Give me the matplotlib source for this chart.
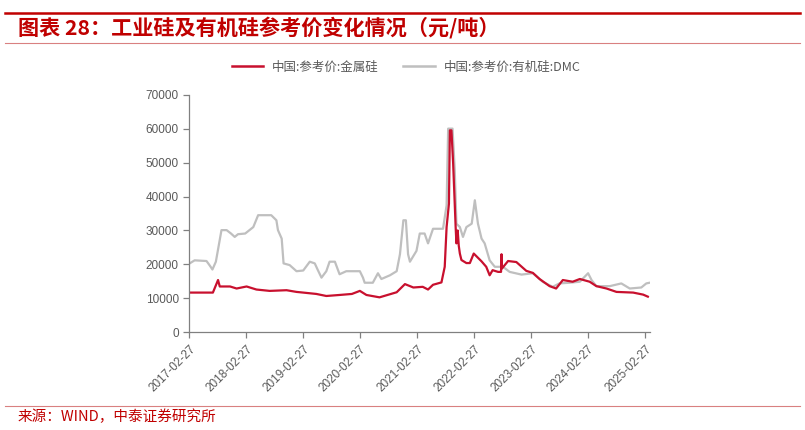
import matplotlib.pyplot as plt
import matplotlib.dates as mdates
import pandas as pd
from matplotlib.lines import Line2D

# 中国:参考价:金属硅 (元/吨)
si_dates = ['2017-03-01', '2017-07-28', '2017-08-30', '2017-09-10', '2017-11-15', '2017-12-27',
            '2018-03-01', '2018-05-03', '2018-07-27', '2018-11-12', '2019-01-15', '2019-02-06',
            '2019-05-22', '2019-07-25', '2019-10-18', '2020-01-05', '2020-02-25', '2020-04-07',
            '2020-06-30', '2020-10-18', '2020-12-10', '2021-02-02', '2021-04-03', '2021-05-07',
            '2021-06-08', '2021-08-01', '2021-08-22', '2021-09-03', '2021-09-18', '2021-09-24',
            '2021-10-04', '2021-10-15', '2021-10-31', '2021-11-05', '2021-11-13', '2021-11-20',
            '2021-11-27', '2021-12-07', '2022-01-08', '2022-01-30', '2022-02-24', '2022-04-15',
            '2022-05-15', '2022-06-06', '2022-06-25', '2022-07-30', '2022-08-18', '2022-08-21',
            '2022-08-24', '2022-10-02', '2022-11-24', '2023-01-27', '2023-03-10', '2023-04-22',
            '2023-06-25', '2023-08-06', '2023-09-18', '2023-11-20', '2024-01-05', '2024-03-08',
            '2024-04-20', '2024-06-24', '2024-08-27', '2024-12-12', '2025-02-14', '2025-03-16']
si_price = [11700, 11700, 15400, 13500, 13500, 12900,
            13500, 12600, 12200, 12400, 11900, 11800,
            11300, 10700, 11000, 11300, 12200, 11000,
            10300, 11800, 14200, 13200, 13400, 12600,
            14000, 14700, 19300, 31000, 37900, 59500,
            59500, 49700, 31000, 26200, 30000, 25500,
            23200, 21300, 20400, 20400, 23200, 20900,
            19300, 16800, 18300, 17800, 17800, 23000,
            18800, 21000, 20700, 18100, 17500, 15700,
            13600, 12900, 15400, 14900, 15700, 14900,
            13600, 12900, 11900, 11700, 11100, 10500]

# 中国:参考价:有机硅:DMC (元/吨)
dmc_dates = ['2017-03-01', '2017-04-02', '2017-06-17', '2017-07-09', '2017-07-25', '2017-08-16',
             '2017-08-30', '2017-09-21', '2017-10-24', '2017-11-21', '2017-12-15', '2018-01-05',
             '2018-02-20', '2018-04-13', '2018-05-14', '2018-08-06', '2018-09-08', '2018-09-18',
             '2018-10-12', '2018-10-24', '2018-12-02', '2019-01-15', '2019-02-27', '2019-04-10',
             '2019-05-12', '2019-05-30', '2019-06-24', '2019-07-25', '2019-08-15', '2019-09-18',
             '2019-10-18', '2019-11-30', '2020-02-25', '2020-03-16', '2020-03-27', '2020-05-18',
             '2020-06-20', '2020-07-12', '2020-09-05', '2020-10-18', '2020-11-08', '2020-11-30',
             '2020-12-16', '2020-12-30', '2021-01-11', '2021-02-22', '2021-03-15', '2021-04-15',
             '2021-05-07', '2021-06-08', '2021-08-11', '2021-09-03', '2021-09-13', '2021-10-11',
             '2021-10-25', '2021-11-05', '2021-11-27', '2021-12-17', '2022-01-08', '2022-02-11',
             '2022-03-03', '2022-03-23', '2022-04-15', '2022-05-05', '2022-06-06', '2022-07-09',
             '2022-08-30', '2022-10-12', '2022-12-27', '2023-03-10', '2023-05-12', '2023-07-15',
             '2023-08-27', '2023-10-30', '2024-01-05', '2024-02-27', '2024-03-20', '2024-04-20',
             '2024-07-15', '2024-09-27', '2024-11-20', '2025-02-02', '2025-03-06', '2025-03-27']
dmc_price = [20300, 21200, 21000, 19600, 18500, 20800,
             24400, 30100, 30100, 29100, 28100, 28900,
             29100, 31000, 34500, 34500, 33000, 30100,
             27600, 20300, 19800, 18000, 18200, 20800,
             20300, 18500, 16100, 18000, 20800, 20800,
             17100, 18000, 18000, 16100, 14600, 14600,
             17400, 15700, 16800, 18000, 23000, 33000,
             33000, 23000, 20800, 24000, 29100, 29100,
             26200, 30500, 30500, 37400, 60000, 60000,
             48000, 32000, 31000, 28100, 31000, 32000,
             38900, 32000, 27600, 26200, 21200, 19300,
             19300, 17800, 17000, 17400, 14900, 13400,
             14400, 14600, 14900, 17400, 15400, 13600,
             13600, 14400, 12900, 13200, 14400, 14600]

tick_dates = ['2017-02-27', '2018-02-27', '2019-02-27', '2020-02-27', '2021-02-27',
              '2022-02-27', '2023-02-27', '2024-02-27', '2025-02-27']
y_ticks = [0, 10000, 20000, 30000, 40000, 50000, 60000, 70000]

red = '#C8102E'
gray = '#BFBFBF'
txt_red = '#C00000'
cjk = ['Noto Sans CJK SC', 'DejaVu Sans']

plt.rcParams['font.family'] = cjk

fig = plt.figure(figsize=(8.05, 4.3), dpi=100)
ax = fig.add_axes([0.2352, 0.2272, 0.5723, 0.5526])

ax.plot(pd.to_datetime(dmc_dates), dmc_price, color=gray, lw=1.6)
ax.plot(pd.to_datetime(si_dates), si_price, color=red, lw=1.6)

ax.set_xlim(pd.Timestamp('2017-02-27'), pd.Timestamp('2025-03-30'))
ax.set_ylim(0, 70000)
ax.set_yticks(y_ticks)
ax.set_xticks(pd.to_datetime(tick_dates))
ax.set_xticklabels(tick_dates, rotation=45, ha='right', rotation_mode='anchor')

for s in ['top', 'right']:
    ax.spines[s].set_visible(False)
for s in ['left', 'bottom']:
    ax.spines[s].set_color('#808080')
    ax.spines[s].set_linewidth(0.9)
ax.tick_params(axis='both', colors='#808080', labelcolor='#595959', length=4, width=0.9,
               labelsize=8.5)
for lab in ax.get_xticklabels() + ax.get_yticklabels():
    lab.set_family(['Liberation Sans', 'DejaVu Sans'])

# legend
handles = [Line2D([], [], color=red, lw=1.8), Line2D([], [], color=gray, lw=1.8)]
fig.legend(handles, ['中国:参考价:金属硅', '中国:参考价:有机硅:DMC'], loc='center',
           bbox_to_anchor=(406 / 805, 1 - 67 / 430), ncol=2, frameon=False, fontsize=9,
           labelcolor='#595959', handlelength=2.5, columnspacing=2.0, handletextpad=0.7)

# header and footer
fig.add_artist(Line2D([5 / 805, 800 / 805], [1 - 13 / 430, 1 - 13 / 430], color=txt_red, lw=1.8))
fig.add_artist(Line2D([5 / 805, 800 / 805], [1 - 42.5 / 430, 1 - 42.5 / 430], color='#D98080', lw=0.8))
fig.text(18 / 805, 1 - 28 / 430, '图表 28：工业硅及有机硅参考价变化情况（元/吨）', color=txt_red,
         fontsize=15.2, fontweight='bold', style='italic', va='center', ha='left')
fig.add_artist(Line2D([5 / 805, 800 / 805], [1 - 406 / 430, 1 - 406 / 430], color='#D98080', lw=0.8))
fig.text(18 / 805, 1 - 417 / 430, '来源：WIND，中泰证券研究所', color=txt_red,
         fontsize=10.5, va='center', ha='left')

fig.savefig('out.png', dpi=100)
